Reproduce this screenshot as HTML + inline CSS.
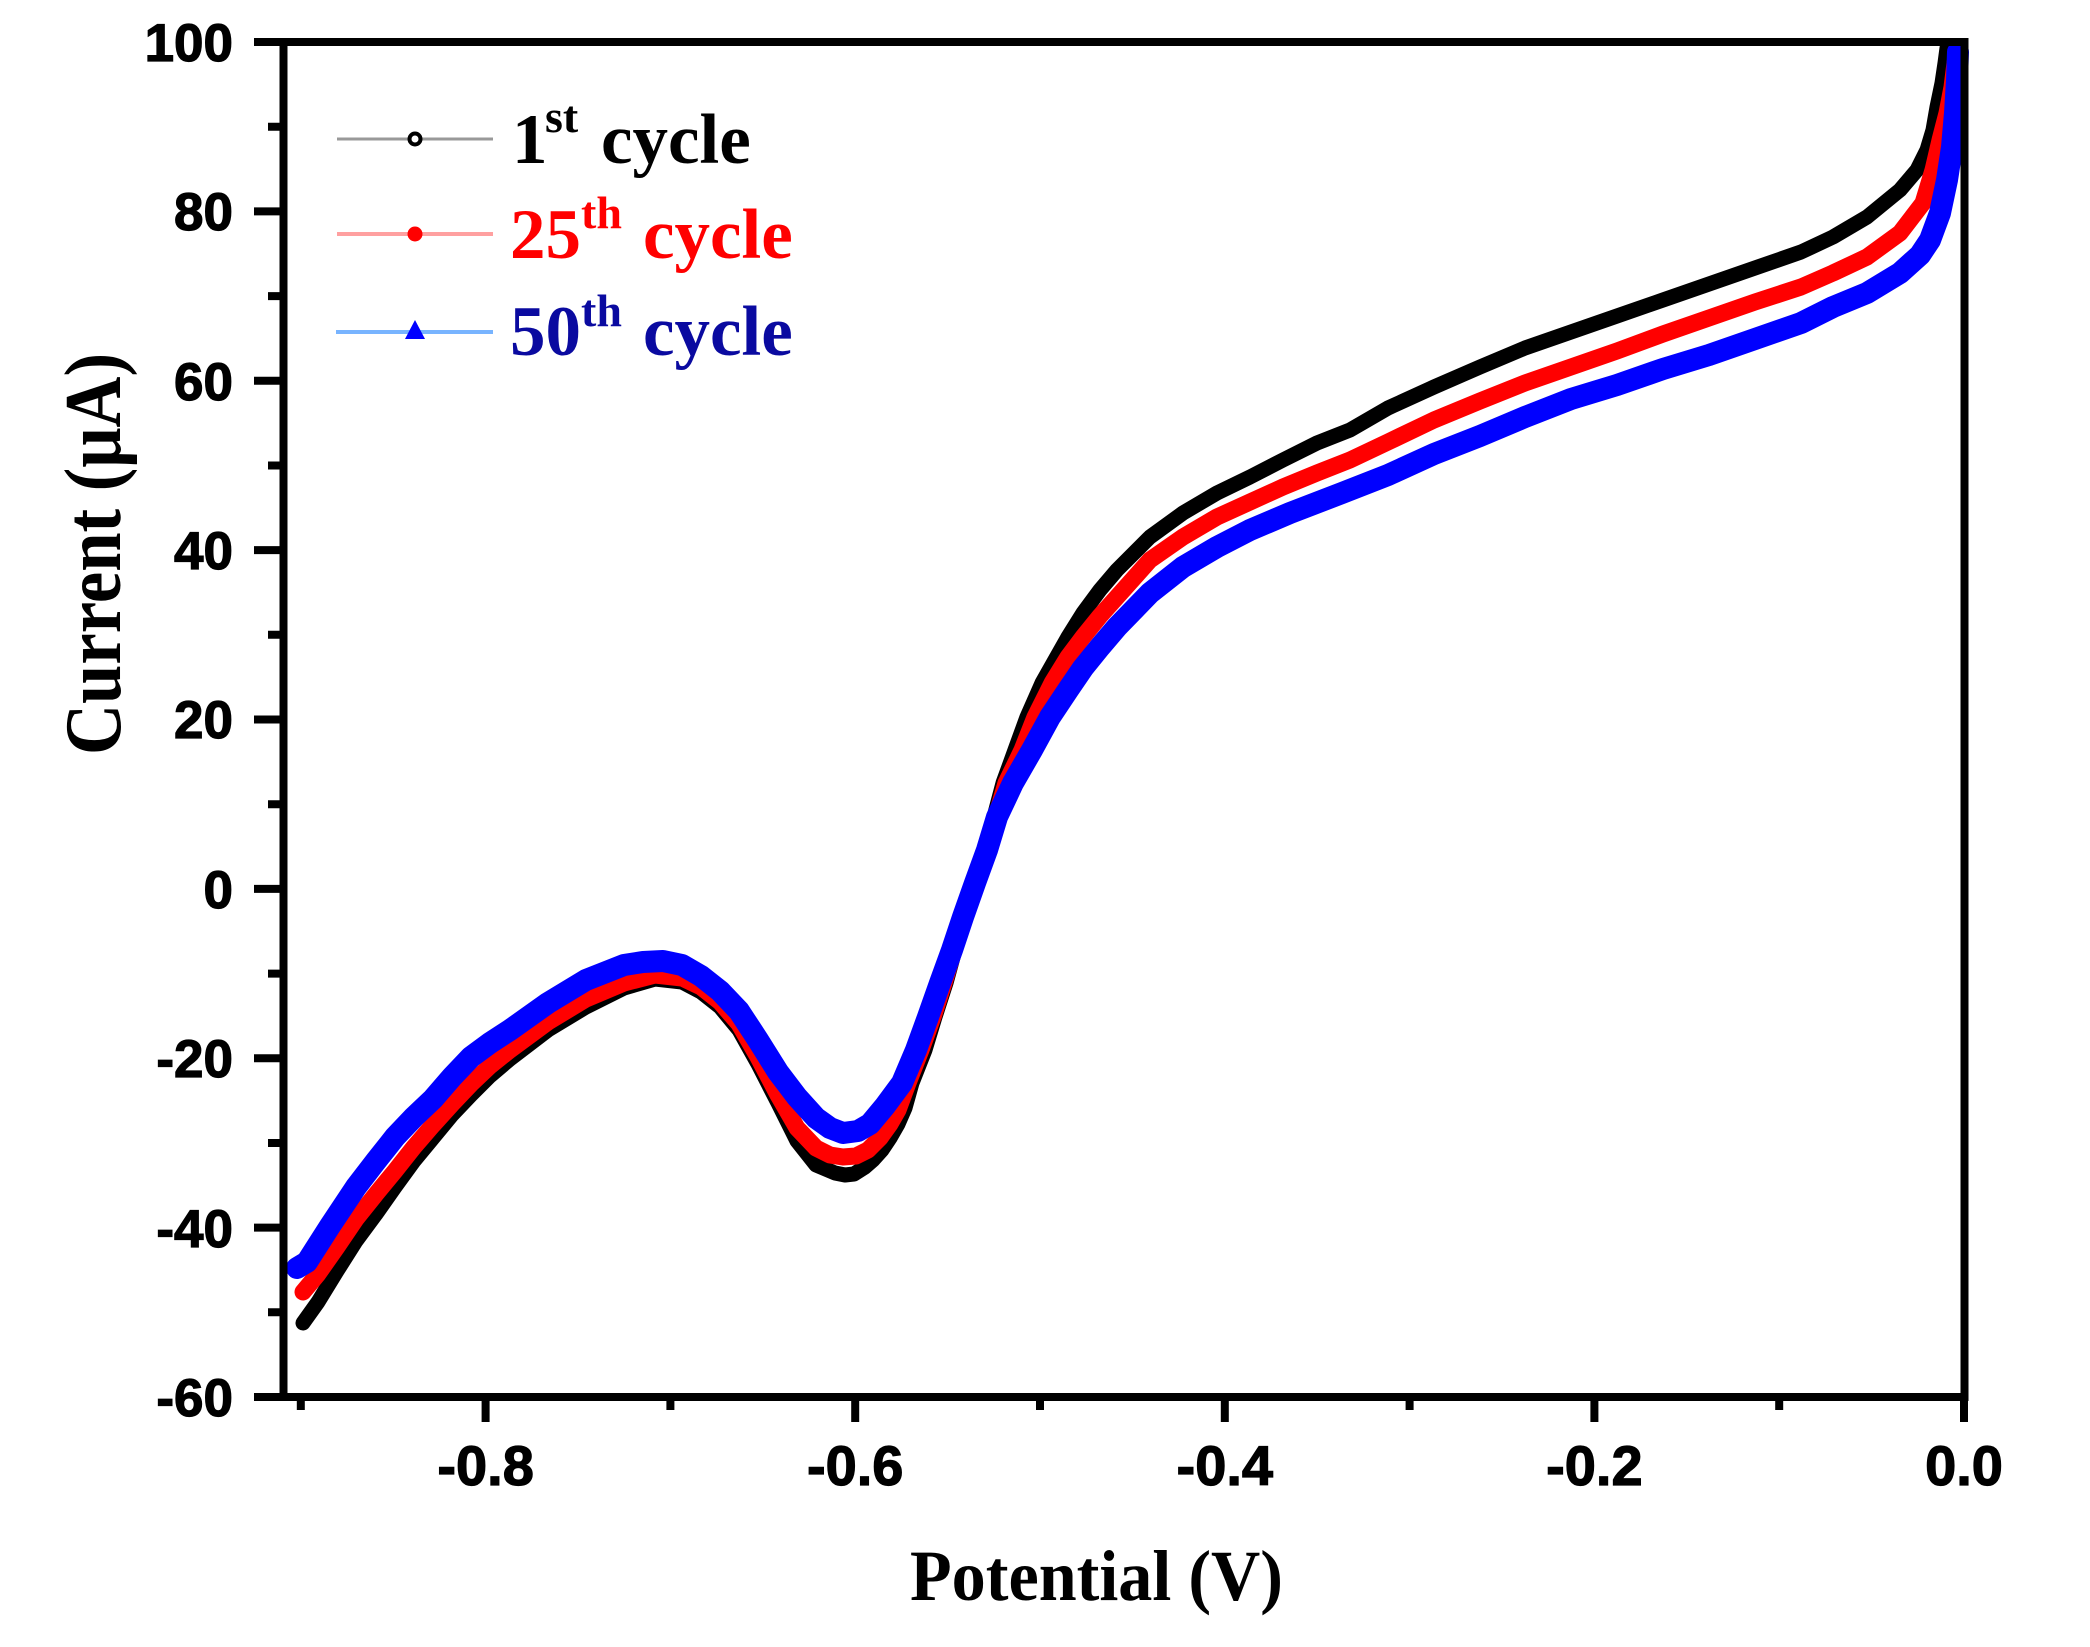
<!DOCTYPE html>
<html>
<head>
<meta charset="utf-8">
<style>
html,body{margin:0;padding:0;background:#fff;}
svg{display:block;}
.tl{font-family:"Liberation Sans",Arial,sans-serif;font-weight:bold;fill:#000;stroke:#000;stroke-width:1.2;}
.serif{font-family:"Liberation Serif","Times New Roman",serif;font-weight:bold;}
</style>
</head>
<body>
<svg width="2090" height="1647" viewBox="0 0 2090 1647" xmlns="http://www.w3.org/2000/svg">
<rect x="0" y="0" width="2090" height="1647" fill="#fff"/>

<!-- Curves -->
<g fill="none" stroke-linejoin="round" stroke-linecap="round">
<polyline stroke="#000" stroke-width="15" points="303,1323 318,1302 337,1271 356,1241 376,1214 395,1187 414,1161 433,1138 452,1115 471,1095 490,1076 510,1059 548,1030 586,1007 624,988 655,979 682,982 701,992 720,1007 739,1030 758,1064 778,1103 797,1141 816,1165 835,1173 845,1175 854,1174 865,1167 873,1160 882,1150 890,1138 898,1124 905,1108 912,1083 925,1050 935,1017 946,983 955,950 965,917 975,883 985,850 994,817 1003,783 1015,750 1027,717 1042,683 1055,660 1068,637 1083,613 1100,590 1117,570 1150,537 1183,513 1217,493 1250,477 1283,460 1317,443 1350,430 1388,408 1434,387 1480,367 1525,348 1571,332 1617,316 1663,300 1709,284 1755,268 1801,252 1833,237 1867,217 1900,190 1917,170 1927,150 1933,130 1937,107 1942,83 1945,63 1947,48"/>
<polyline stroke="#ff0000" stroke-width="17" points="303,1292 318,1274 337,1247 356,1219 376,1194 395,1171 414,1147 433,1125 452,1104 471,1084 490,1066 510,1050 548,1022 586,999 624,983 655,975 682,978 701,987 720,1002 739,1024 758,1057 778,1095 797,1128 816,1148 830,1155 843,1157 856,1156 868,1150 880,1138 890,1124 898,1110 908,1083 921,1050 933,1017 944,983 954,950 964,917 975,883 986,850 996,817 1006,783 1022,750 1035,717 1052,683 1068,657 1083,637 1100,616 1117,597 1150,560 1183,537 1217,517 1250,502 1283,487 1317,473 1350,460 1388,442 1434,420 1480,401 1525,383 1571,367 1617,351 1663,334 1709,318 1755,302 1801,287 1833,273 1867,257 1900,233 1923,203 1933,170 1940,140 1947,113 1952,87 1955,63 1958,48"/>
<polyline stroke="#0000ff" stroke-width="22" points="297,1268 307,1262 330,1226 356,1187 376,1161 395,1137 414,1117 433,1099 452,1077 471,1057 490,1043 510,1030 548,1003 586,980 624,965 643,962 663,961 682,965 701,976 720,991 739,1011 758,1040 778,1072 797,1097 816,1118 830,1128 843,1133 858,1131 870,1124 885,1106 902,1083 916,1050 928,1017 940,983 952,950 963,917 975,883 987,850 997,817 1013,783 1032,750 1050,717 1068,690 1083,668 1100,647 1117,627 1150,593 1183,567 1217,547 1250,530 1290,513 1342,493 1388,475 1434,454 1480,436 1525,417 1571,399 1617,385 1663,369 1709,355 1755,339 1801,323 1833,307 1867,293 1900,273 1920,255 1930,240 1940,213 1947,180 1952,147 1955,113 1957,80 1958,52"/>
</g>

<!-- Frame -->
<rect x="283.5" y="42" width="1681" height="1355" fill="none" stroke="#000" stroke-width="8"/>

<!-- Ticks -->
<path stroke="#000" stroke-width="8" fill="none" d="
M254 42 H284 M254 211.4 H284 M254 380.8 H284 M254 550.1 H284 M254 719.5 H284 M254 888.9 H284 M254 1058.3 H284 M254 1227.6 H284 M254 1397 H284
M268 126.7 H284 M268 296.1 H284 M268 465.5 H284 M268 634.8 H284 M268 804.2 H284 M268 973.6 H284 M268 1143 H284 M268 1312.3 H284
M485.6 1397 V1422 M855.2 1397 V1422 M1224.8 1397 V1422 M1594.4 1397 V1422 M1964 1397 V1422
M300.8 1397 V1410 M670.4 1397 V1410 M1040 1397 V1410 M1409.6 1397 V1410 M1779.2 1397 V1410"/>

<!-- Y tick labels -->
<g class="tl" font-size="53" text-anchor="end">
<text x="233" y="61">100</text>
<text x="233" y="230">80</text>
<text x="233" y="400">60</text>
<text x="233" y="569">40</text>
<text x="233" y="738">20</text>
<text x="233" y="908">0</text>
<text x="233" y="1077">-20</text>
<text x="233" y="1247">-40</text>
<text x="233" y="1416">-60</text>
</g>

<!-- X tick labels -->
<g class="tl" font-size="56" text-anchor="middle">
<text x="485.6" y="1485">-0.8</text>
<text x="855.2" y="1485">-0.6</text>
<text x="1224.8" y="1485">-0.4</text>
<text x="1594.4" y="1485">-0.2</text>
<text x="1964" y="1485">0.0</text>
</g>

<!-- Axis titles -->
<text class="serif" x="910" y="1600" font-size="72" textLength="373" lengthAdjust="spacingAndGlyphs" fill="#000">Potential (V)</text>
<text class="serif" transform="translate(120,755) rotate(-90)" x="0" y="0" font-size="80" textLength="402" lengthAdjust="spacingAndGlyphs" fill="#000">Current (μA)</text>

<!-- Legend -->
<line x1="337" y1="139" x2="493" y2="139" stroke="#999" stroke-width="3"/>
<circle cx="415" cy="139" r="5.5" fill="#fff" stroke="#000" stroke-width="4"/>
<line x1="337" y1="234" x2="493" y2="234" stroke="#ffa0a0" stroke-width="4"/>
<circle cx="415" cy="234" r="7.5" fill="#ff0000"/>
<line x1="336" y1="332" x2="493" y2="332" stroke="#78b4ff" stroke-width="4"/>
<polygon points="405,339 425,339 415,320" fill="#0000ff"/>

<g class="serif">
<text x="512" y="163" font-size="71" fill="#000">1</text>
<text x="545" y="132" font-size="46" fill="#000">st</text>
<text x="601" y="163" font-size="71" fill="#000">cycle</text>

<text x="510" y="258" font-size="71" fill="#ff0000">25</text>
<text x="581" y="228" font-size="46" fill="#ff0000">th</text>
<text x="643" y="258" font-size="71" fill="#ff0000">cycle</text>

<text x="510" y="355" font-size="71" fill="#0a0aa0">50</text>
<text x="581" y="326" font-size="46" fill="#0a0aa0">th</text>
<text x="643" y="355" font-size="71" fill="#0a0aa0">cycle</text>
</g>
</svg>
</body>
</html>
